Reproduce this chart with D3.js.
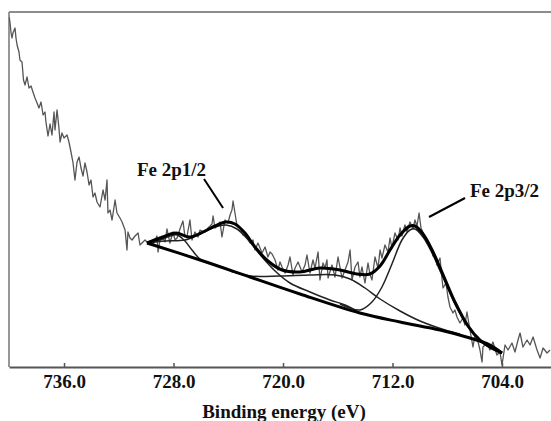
<!DOCTYPE html>
<html>
<head>
<meta charset="utf-8">
<script src="https://cdn.jsdelivr.net/npm/d3@7"></script>
<style>
  body { margin: 0; background: #fff; }
  svg { display: block; }
  text { font-family: "Liberation Serif", "Times New Roman", serif; font-weight: bold; fill: #111; }
</style>
</head>
<body>
<svg id="chart" width="551" height="421"></svg>
<script>
// binding energy (eV) / intensity (a.u.)
const energy = [740.01,739.95,739.87,739.80,739.73,739.58,739.51,739.43,739.29,739.22,
  739.07,738.96,738.85,738.70,738.56,738.41,738.27,738.12,737.97,737.83,
  737.68,737.53,737.39,737.32,737.17,737.02,736.88,736.73,736.66,736.51,
  736.37,736.29,736.15,736.00,735.78,735.64,735.49,735.34,735.20,735.05,
  734.90,734.76,734.61,734.47,734.32,734.17,734.03,733.88,733.74,733.59,
  733.37,733.15,733.00,732.86,732.79,732.64,732.49,732.27,732.13,731.91,
  731.76,731.54,731.40,731.33,731.18,731.03,730.81,730.59,730.45,730.23,
  730.08,729.86,729.72,729.50,729.35,729.21,729.13,728.99,728.84,728.62,
  728.48,728.26,728.04,727.89,727.74,727.53,727.31,727.16,727.01,726.80,
  726.65,726.43,726.21,726.06,725.92,725.70,725.48,725.33,725.19,725.11,
  724.97,724.82,724.60,724.46,724.24,724.02,723.87,723.73,723.65,723.51,
  723.36,723.14,722.92,722.78,722.63,722.41,722.19,722.05,721.83,721.53,
  721.31,721.10,720.95,720.80,720.58,720.37,720.22,720.07,719.85,719.63,
  719.49,719.27,719.12,718.90,718.61,718.39,718.25,718.03,717.81,717.66,
  717.44,717.30,717.08,716.93,716.79,716.71,716.42,716.20,715.98,715.69,
  715.47,715.25,715.10,714.96,714.74,714.52,714.38,714.23,714.01,713.79,
  713.65,713.50,713.28,713.06,712.91,712.77,712.55,712.33,712.18,712.04,
  711.82,711.60,711.45,711.31,711.09,710.94,710.72,710.50,710.36,710.21,
  710.06,709.92,709.85,709.63,709.48,709.26,709.04,708.90,708.75,708.53,
  708.39,708.31,708.09,707.95,707.80,707.58,707.44,707.29,707.07,706.85,
  706.71,706.56,706.34,706.12,705.97,705.83,705.61,705.46,705.39,705.10,
  704.88,704.66,704.37,704.15,704.00,703.78,703.56,703.27,703.05,702.83,
  702.68,702.47,702.17,701.95,701.73,701.44,701.22,701.00,700.71,700.49];
const counts = [350,345,334,329,334,339,329,322,315,307,
  305,287,282,290,279,281,275,269,264,259,
  265,252,255,245,231,243,232,255,237,257,
  239,225,234,229,232,225,215,204,187,205,
  210,199,191,204,195,182,187,170,174,165,
  160,177,167,187,154,157,147,167,154,149,
  145,137,117,135,129,127,131,134,122,125,
  127,124,126,122,127,131,115,127,131,125,
  138,124,135,127,129,138,146,130,131,147,
  127,135,130,137,136,135,139,141,143,151,
  139,141,145,130,147,144,152,157,166,154,
  141,139,132,134,129,124,127,117,124,114,
  120,110,115,113,107,97,105,100,94,102,
  110,92,99,105,95,102,112,94,107,99,
  115,87,104,99,107,89,102,90,110,89,
  97,105,117,87,100,105,90,100,84,104,
  93,87,110,99,117,109,122,115,129,119,
  134,127,139,131,142,135,145,138,147,141,
  154,139,137,129,124,122,111,112,102,109,
  89,79,84,70,60,54,57,50,44,49,
  42,55,37,20,32,30,17,5,20,24,
  17,25,12,15,2,22,17,24,15,27,
  34,20,27,22,30,17,9,19,14,17];

// fitted curves, [eV, intensity]
const fitBackground = [[729.94,124],[726.06,107],[722.41,90],[718.76,73],[714.38,54],
  [711.45,45],[708.53,37],[706.34,29],[704.88,22],[704.00,14]];
const fitEnvelope = [[729.94,124],[728.99,129],[727.82,134],[726.80,130],[725.70,136],
  [724.97,141],[724.16,145],[723.51,143],[722.78,134],[722.05,120],[721.10,106],
  [720.07,97],[718.76,95],[717.30,99],[715.84,97],[714.59,93],[713.65,93],
  [712.91,101],[712.18,117],[711.45,132],[710.72,141],[710.36,141],[709.77,133],
  [709.11,117],[708.39,95],[707.44,65],[706.48,41],[705.61,27],[704.73,19],[704.00,14]];
const fitSat728 = [[729.94,124],[728.99,127],[728.26,131],[727.74,132],[727.23,127],
  [726.65,117],[726.06,108],[725.33,104]];
const fitFe2p12 = [[729.94,124],[728.62,126],[727.16,127],[726.06,133],[724.97,140],
  [724.16,142],[723.36,138],[722.41,125],[721.53,110],[720.58,96],[719.49,84],
  [718.03,75],[716.57,67],[715.47,62],[714.38,54]];
const fitSat718 = [[723.87,96],[722.41,91],[720.22,91],[718.03,92],[716.20,92],
  [715.10,88],[714.01,79],[712.91,68],[711.45,56],[709.99,46],[708.16,37],[707.07,33]];
const fitFe2p32 = [[715.84,63],[714.38,57],[713.50,65],[712.77,80],[712.04,103],
  [711.31,127],[710.72,137],[710.36,138],[709.77,130],[709.11,114],[708.39,92],
  [707.44,63],[706.48,40],[705.61,26],[704.73,18],[704.00,14]];

const xTicks = [736, 728, 720, 712, 704];
const xTitle = "Binding energy (eV)";
// label text anchor and leader line ends, in eV / intensity
const peakLabels = [
  { text: "Fe 2p1/2", e: 730.67, i: 191, line: [[725.77, 188], [724.38, 159]] },
  { text: "Fe 2p3/2", e: 706.34, i: 170, line: [[709.33, 150], [706.70, 169]] }
];

const svg = d3.select("#chart");
const x = d3.scaleLinear().domain([740.02, 700.42]).range([9, 551]);
const y = d3.scaleLinear().domain([0, 355]).range([367, 12]);

svg.append("defs").append("clipPath").attr("id", "plot")
  .append("rect").attr("x", 9).attr("y", 12).attr("width", 542).attr("height", 355);

// frame: top border and left axis
svg.append("line").attr("x1", 9).attr("x2", 551).attr("y1", 12).attr("y2", 12)
  .attr("stroke", "#8c8c8c").attr("stroke-width", 1.8);
svg.append("line").attr("x1", 9).attr("x2", 9).attr("y1", 12).attr("y2", 367)
  .attr("stroke", "#8c8c8c").attr("stroke-width", 1.8);

const plot = svg.append("g").attr("clip-path", "url(#plot)");

const raw = d3.line().x((d, k) => x(energy[k])).y(d => y(d));
plot.append("path").datum(counts)
  .attr("fill", "none").attr("stroke", "#555").attr("stroke-width", 1.3)
  .attr("stroke-linejoin", "round").attr("d", raw);

const smooth = d3.line().x(d => x(d[0])).y(d => y(d[1])).curve(d3.curveCatmullRom.alpha(0.5));
[fitSat728, fitFe2p12, fitSat718, fitFe2p32].forEach(c => {
  plot.append("path").datum(c).attr("fill", "none")
    .attr("stroke", "#222").attr("stroke-width", 1.5).attr("d", smooth);
});
[fitBackground, fitEnvelope].forEach(c => {
  plot.append("path").datum(c).attr("fill", "none")
    .attr("stroke", "#000").attr("stroke-width", 3).attr("d", smooth);
});

// bottom axis
const axis = svg.append("g").attr("transform", "translate(0,367)")
  .call(d3.axisBottom(x).tickValues(xTicks).tickFormat(d3.format(".1f")).tickSize(-4).tickSizeOuter(0));
axis.select(".domain").attr("stroke", "#555").attr("stroke-width", 2);
axis.selectAll(".tick line").attr("stroke", "#555").attr("stroke-width", 1.5);
axis.selectAll(".tick text").attr("dy", null).attr("y", 21)
  .style("font-family", "'Liberation Serif', serif").style("font-weight", "bold")
  .style("font-size", "19px").attr("fill", "#111");

svg.append("text").attr("x", (x.range()[0] + x.range()[1]) / 2 + 4).attr("y", 418)
  .attr("text-anchor", "middle").style("font-size", "19px").text(xTitle);

// peak labels with leader lines
peakLabels.forEach(l => {
  svg.append("text").attr("x", x(l.e)).attr("y", y(l.i)).style("font-size", "19px").text(l.text);
  svg.append("line")
    .attr("x1", x(l.line[0][0])).attr("y1", y(l.line[0][1]))
    .attr("x2", x(l.line[1][0])).attr("y2", y(l.line[1][1]))
    .attr("stroke", "#000").attr("stroke-width", 2);
});
</script>
</body>
</html>
